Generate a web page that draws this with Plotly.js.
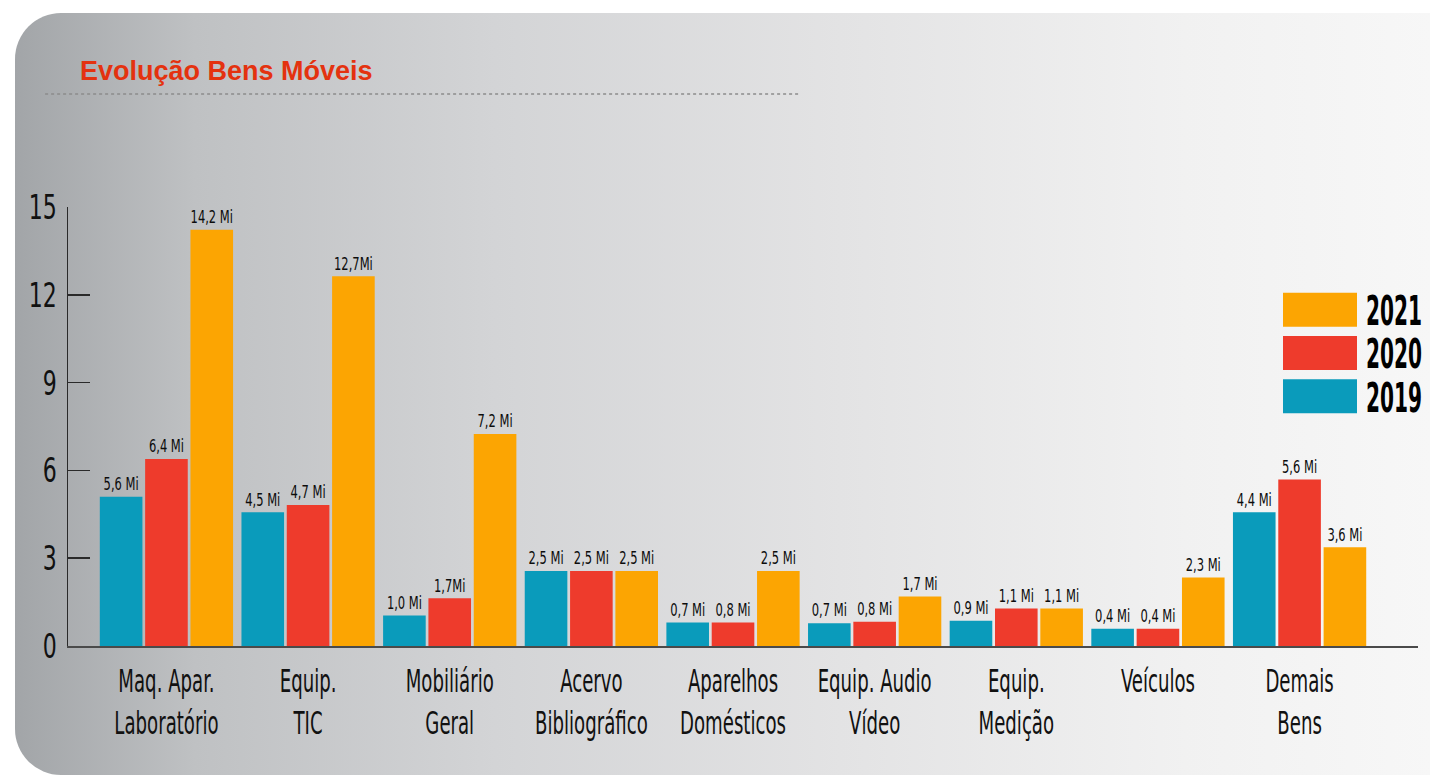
<!DOCTYPE html>
<html>
<head>
<meta charset="utf-8">
<script src="https://cdn.plot.ly/plotly-3.0.1.min.js"></script>
<style>
  html, body { margin: 0; padding: 0; background: #ffffff; width: 1430px; height: 780px; overflow: hidden; }
  #bg { position: absolute; left: 15px; top: 13px; width: 1500px; height: 762px; border-radius: 46px;
        background: linear-gradient(to right, #a2a5a8 0%, #bfc1c3 12%, #d3d4d6 32%, #e3e3e4 55%, #f1f1f1 78%, #f9f9f9 100%); }
  #chart { position: absolute; left: 0; top: 0; width: 1430px; height: 780px; }
</style>
</head>
<body>
<div id="bg"></div>
<div id="chart"></div>
<script>
// ---- data ----
const categories = [
  "Maq. Apar.<br>Laboratório", "Equip.<br>TIC", "Mobiliário<br>Geral", "Acervo<br>Bibliográfico",
  "Aparelhos<br>Domésticos", "Equip. Audio<br>Vídeo", "Equip.<br>Medição", "Veículos", "Demais<br>Bens"
];
const seriesNames = ["2019", "2020", "2021"];
const values2019 = [5.1, 4.57, 1.04, 2.56, 0.8, 0.78, 0.86, 0.59, 4.57];
const values2020 = [6.39, 4.82, 1.63, 2.56, 0.8, 0.83, 1.28, 0.59, 5.69];
const values2021 = [14.22, 12.63, 7.24, 2.56, 2.56, 1.69, 1.28, 2.34, 3.37];
const labels2019 = ["5,6 Mi", "4,5 Mi", "1,0 Mi", "2,5 Mi", "0,7 Mi", "0,7 Mi", "0,9 Mi", "0,4 Mi", "4,4 Mi"];
const labels2020 = ["6,4 Mi", "4,7 Mi", "1,7Mi", "2,5 Mi", "0,8 Mi", "0,8 Mi", "1,1 Mi", "0,4 Mi", "5,6 Mi"];
const labels2021 = ["14,2 Mi", "12,7Mi", "7,2 Mi", "2,5 Mi", "2,5 Mi", "1,7 Mi", "1,1 Mi", "2,3 Mi", "3,6 Mi"];
const yTicks = [0, 3, 6, 9, 12, 15];
const chartTitle = "Evolução Bens Móveis";

// ---- style ----
const colors = ["#0a9bbb", "#ee3b2c", "#fca502"];
const narrow = "'DejaVu Sans Condensed', 'Liberation Sans', sans-serif";

const allValues = [values2019, values2020, values2021];
const allLabels = [labels2019, labels2020, labels2021];

const traces = seriesNames.map((name, i) => ({
  type: "bar",
  name: name,
  x: categories,
  y: allValues[i],
  text: allLabels[i],
  textposition: "outside",
  constraintext: "none",
  cliponaxis: false,
  textfont: { family: narrow, size: 16, color: "#0c0c0c" },
  marker: { color: colors[i], line: { width: 0 } },
  hoverinfo: "x+text"
}));

// pixel helpers for decoration placement
const W = 1430, H = 780, L = 68, R = 6, T = 207, B = 134;
const px2paperX = px => (px - L) / (W - L - R);
const px2paperY = py => (H - B - py) / (H - T - B);

const layout = {
  width: W, height: H,
  margin: { l: L, r: R, t: T, b: B, pad: 0 },
  paper_bgcolor: "rgba(0,0,0,0)",
  plot_bgcolor: "rgba(0,0,0,0)",
  barmode: "group",
  bargap: 0.04,
  bargroupgap: 0.06,
  title: {
    text: chartTitle,
    font: { family: "'Liberation Sans', Arial, sans-serif", size: 27, color: "#e4320f", weight: "bold" },
    x: 80 / W, xref: "container", xanchor: "left",
    y: 1 - 71 / H, yref: "container", yanchor: "middle"
  },
  xaxis: {
    type: "category",
    range: [-0.695, 8.836],
    showline: true, linecolor: "#4a4a4a", linewidth: 2,
    ticks: "", showgrid: false, zeroline: false,
    tickangle: 0,
    tickfont: { family: narrow, size: 32, color: "#111111" },
    ticklabelstandoff: 6,
    fixedrange: true
  },
  yaxis: {
    range: [0, 15],
    tickvals: yTicks,
    ticktext: yTicks.map(String),
    ticks: "inside", ticklen: 22, tickwidth: 1.5, tickcolor: "#2a2a2a",
    showline: true, linecolor: "#2a2a2a", linewidth: 1.5,
    showgrid: false, zeroline: false,
    tickfont: { family: narrow, size: 34, color: "#111111" },
    ticklabelstandoff: 3,
    fixedrange: true
  },
  showlegend: true,
  legend: {
    traceorder: "reversed",
    x: px2paperX(1430), xanchor: "right",
    y: px2paperY(283), yanchor: "top",
    bgcolor: "rgba(0,0,0,0)",
    itemwidth: 80,
    font: { family: narrow, size: 31, color: "#000000", weight: "bold" },
    itemclick: false, itemdoubleclick: false
  },
  shapes: [{
    type: "line", xref: "paper", yref: "paper",
    x0: px2paperX(45), x1: px2paperX(803), y0: px2paperY(94), y1: px2paperY(94),
    line: { color: "#8c8c8c", width: 1.5, dash: "dot" }
  }]
};

// squeeze a text horizontally (and optionally vertically) around a pivot, keeping it real text
function squeeze(el, sx, sy, anchor) {
  const bb = el.getBBox();
  const px = anchor === "start" ? bb.x : anchor === "end" ? bb.x + bb.width : bb.x + bb.width / 2;
  const py = bb.y + bb.height / 2;
  const t = el.getAttribute("transform") || "";
  el.setAttribute("transform", `${t} translate(${px},${py}) scale(${sx},${sy}) translate(${-px},${-py})`);
}

Plotly.newPlot("chart", traces, layout, { displayModeBar: false, staticPlot: true }).then(gd => {
  gd.querySelectorAll(".xtick text").forEach(el => squeeze(el, 0.63, 1, "middle"));
  gd.querySelectorAll(".ytick text").forEach(el => squeeze(el, 0.72, 1, "end"));
  gd.querySelectorAll("text.bartext").forEach(el => squeeze(el, 0.8, 1.05, "middle"));

  const host = gd.getBoundingClientRect();
  gd.querySelectorAll(".legend .traces").forEach(tr => {
    const txt = tr.querySelector(".legendtext");
    const p = tr.querySelector(".legendpoints path");
    if (!txt || !p) return;
    const bb = txt.getBBox();
    squeeze(txt, 56 / bb.width, 1.3, "start");
    // move text so that its left edge sits where the reference legend text starts
    const r1 = txt.getBoundingClientRect();
    const dx = (1366 + host.left) - r1.left;
    txt.setAttribute("transform", `translate(${dx},0) ` + (txt.getAttribute("transform") || ""));
    const tr1 = txt.getBoundingClientRect();
    const pr = p.getBoundingClientRect();
    const ox = pr.left + pr.width / 2;
    const right = tr1.left - 9 - ox;
    const left = right - 74;
    p.setAttribute("d", `M${right},17H${left}V-17H${right}Z`);
    p.style.strokeWidth = "0";
  });
});
</script>
</body>
</html>
